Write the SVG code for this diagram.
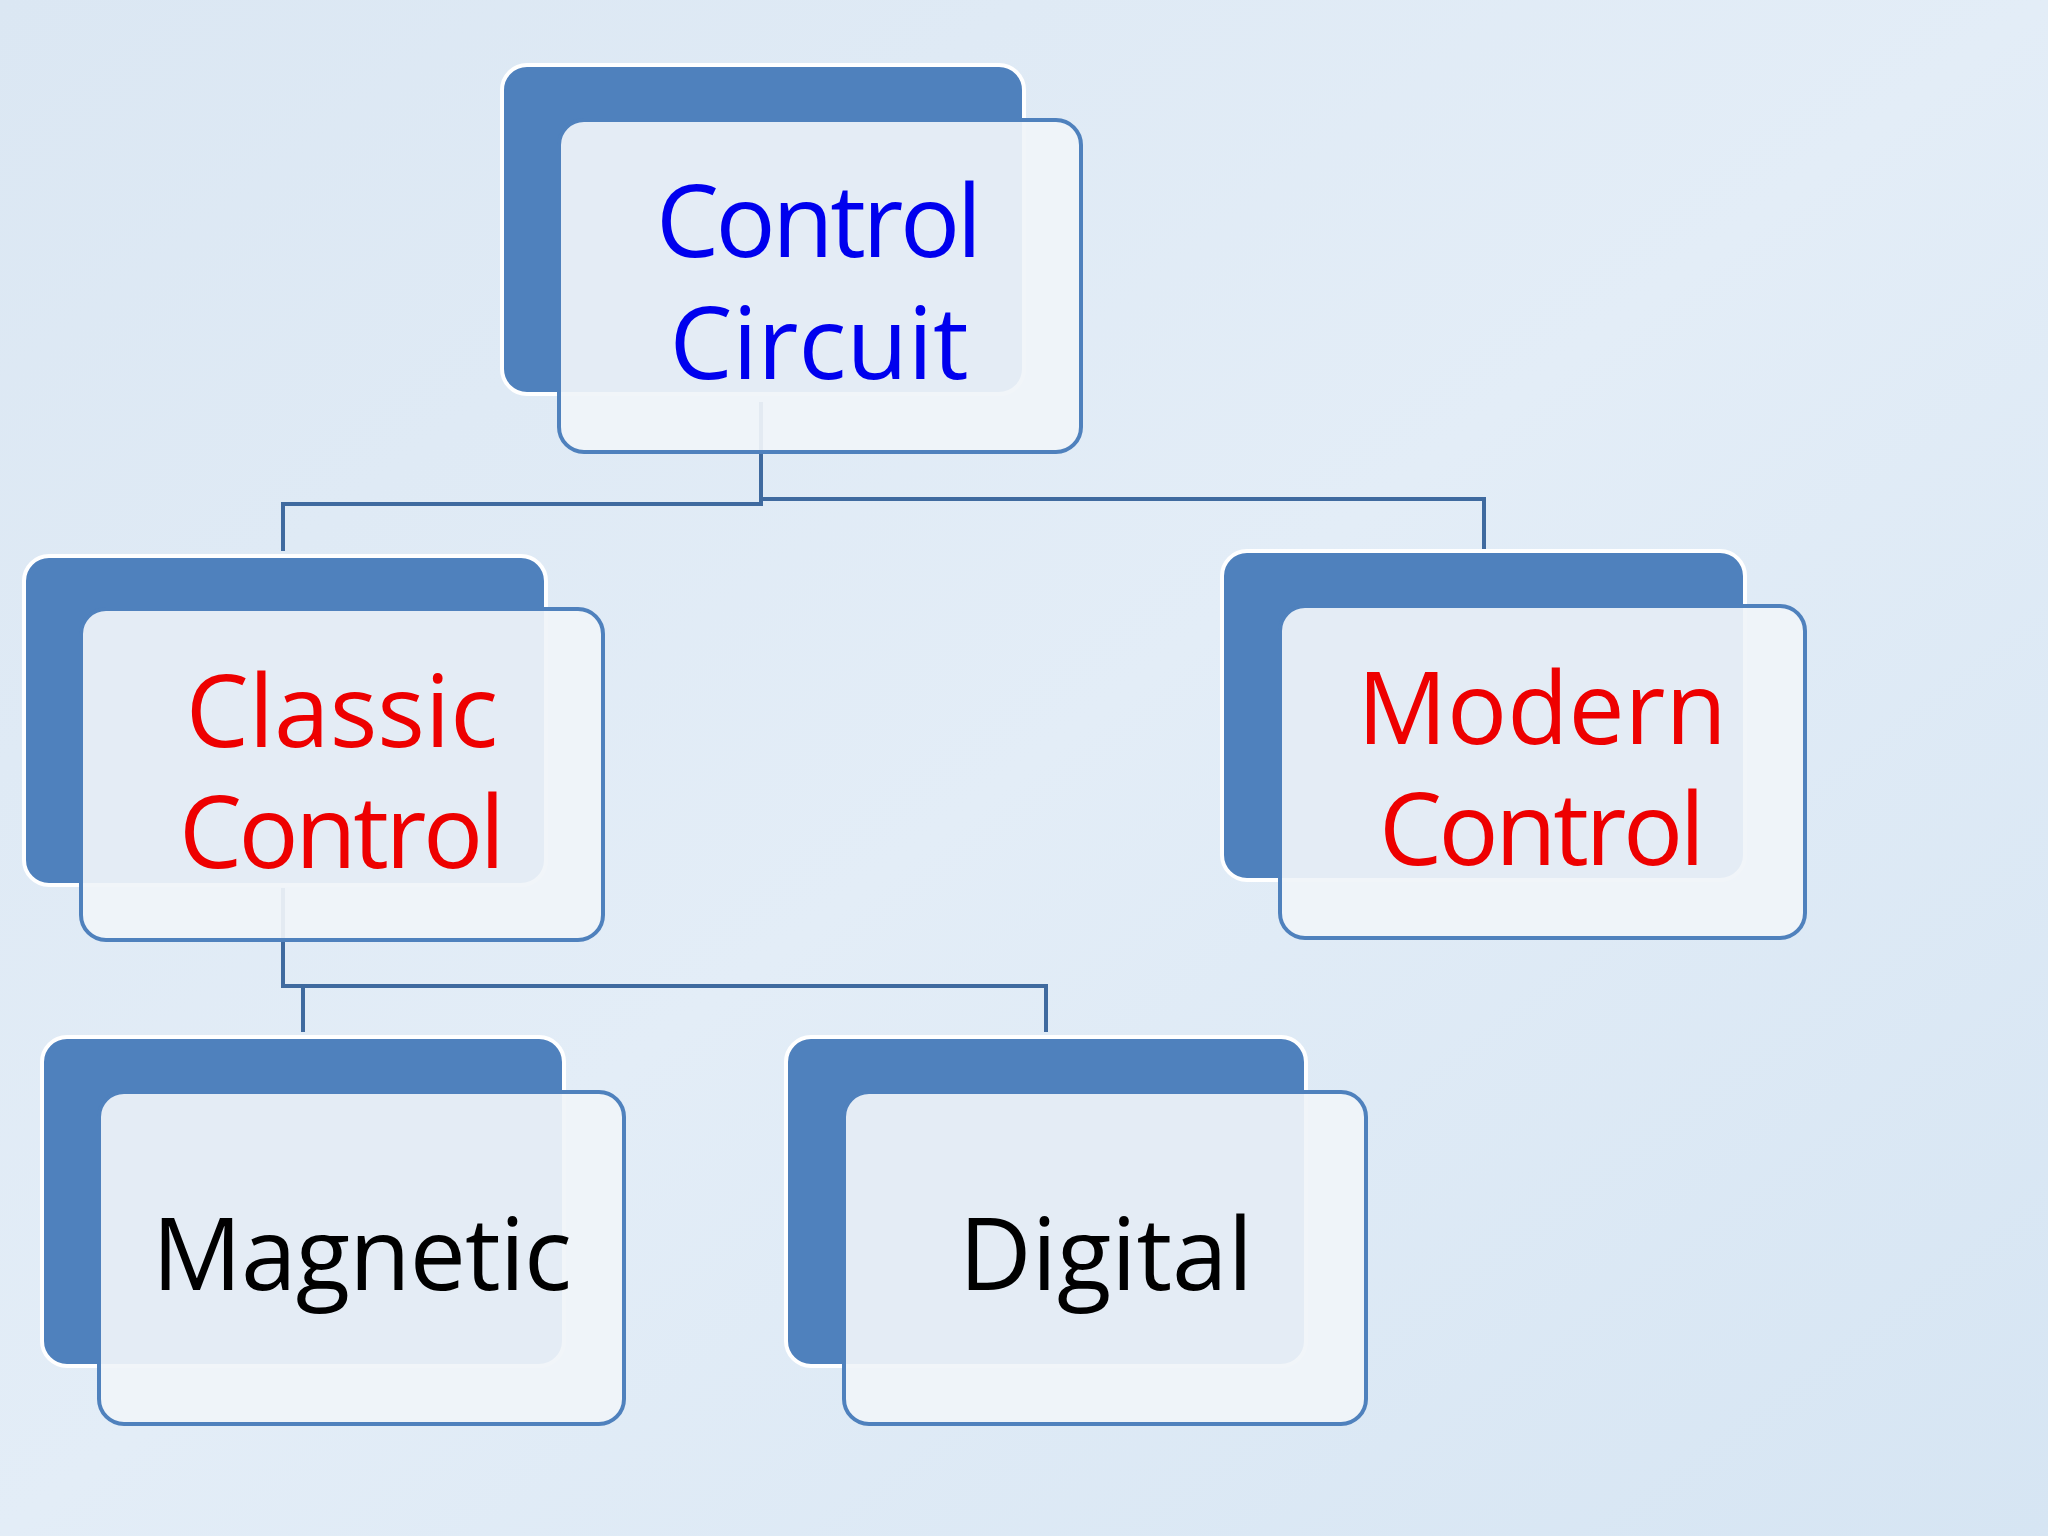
<svg xmlns="http://www.w3.org/2000/svg" width="2048" height="1536" viewBox="0 0 2048 1536">
<defs>
<linearGradient id="bg" x1="0" y1="0" x2="1" y2="1"><stop offset="0" stop-color="#dbe7f3"/><stop offset="0.5" stop-color="#e3edf7"/><stop offset="1" stop-color="#d6e5f3"/></linearGradient>
</defs>
<style>
.back{fill:#4f81bd;stroke:#fff;stroke-width:4}
.front{fill:#f0f4f9;fill-opacity:0.93;stroke:#4f81bd;stroke-width:4}
.t{font-family:"Open Sans","Noto Sans",sans-serif;font-size:100px;text-anchor:middle}
.con{fill:none;stroke:#3f6a9f;stroke-width:4}
</style>
<rect width="2048" height="1536" fill="url(#bg)"/>
<g id="connectors" class="con">
<path d="M761 402 V504 H283 V551"/>
<path d="M761 499 H1484 V549"/>
<path d="M283 888 V986 H1046 V1032"/>
<path d="M303 986 V1032"/>
</g>
<g id="n-control">
<rect class="back" x="502" y="65" width="522" height="329" rx="25"/>
<rect class="front" x="559" y="120" width="522" height="332" rx="25"/>
<text class="t" x="819" y="257" fill="#0000ee" textLength="326">Control</text>
<text class="t" x="819" y="379" fill="#0000ee">Circuit</text>
</g>
<g id="n-classic">
<rect class="back" x="24" y="556" width="522" height="329" rx="25"/>
<rect class="front" x="81" y="609" width="522" height="331" rx="25"/>
<text class="t" x="342" y="747" fill="#ee0000">Classic</text>
<text class="t" x="342" y="868" fill="#ee0000" textLength="326">Control</text>
</g>
<g id="n-modern">
<rect class="back" x="1222" y="551" width="523" height="329" rx="25"/>
<rect class="front" x="1280" y="606" width="525" height="332" rx="25"/>
<text class="t" x="1542" y="744" fill="#ee0000">Modern</text>
<text class="t" x="1542" y="865" fill="#ee0000" textLength="326">Control</text>
</g>
<g id="n-magnetic">
<rect class="back" x="42" y="1037" width="522" height="329" rx="25"/>
<rect class="front" x="99" y="1092" width="525" height="332" rx="25"/>
<text class="t" x="362" y="1290" fill="#000" textLength="420">Magnetic</text>
</g>
<g id="n-digital">
<rect class="back" x="786" y="1037" width="520" height="329" rx="25"/>
<rect class="front" x="844" y="1092" width="522" height="332" rx="25"/>
<text class="t" x="1106" y="1290" fill="#000">Digital</text>
</g>
</svg>
